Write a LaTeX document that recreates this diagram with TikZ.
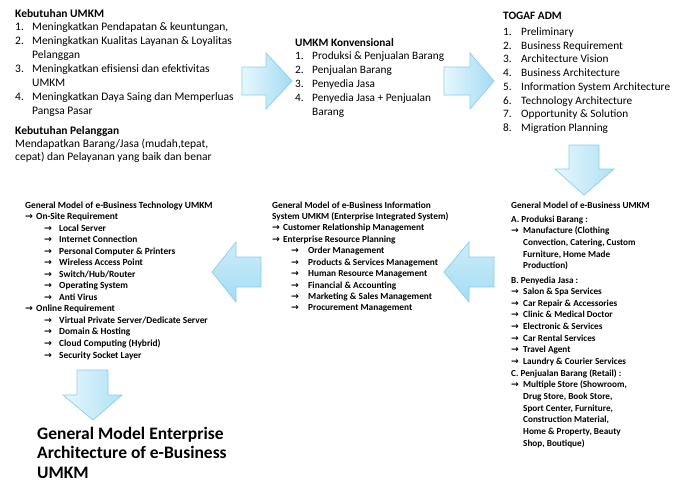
\documentclass[tikz,border=0pt]{standalone}
\usepackage{fontspec}
\setmainfont{Carlito}
\newfontfamily\arrowfont{DejaVu Sans}
\definecolor{arrowlight}{HTML}{E6F7FD}
\definecolor{arrowdark}{HTML}{A4DCF3}
\definecolor{arrowedge}{HTML}{8ACEE8}
\newcommand\myarr{{\arrowfont →}}
\newcommand\numbox[2]{\makebox[#1][l]{#2}}
\tikzset{
  blockarrow/.style={draw=arrowedge, line width=0.7pt, line join=miter},
  harrow/.style={blockarrow, left color=arrowlight, right color=arrowdark},
  larrow/.style={blockarrow, top color=arrowlight!60!arrowdark, bottom color=arrowdark},
  varrow/.style={blockarrow, left color=arrowlight, right color=arrowdark!80!arrowlight},
  textblock/.style={anchor=base west, inner sep=0pt, align=left}
}
\begin{document}
\begin{tikzpicture}[x=1pt, y=-1pt]
\useasboundingbox (0,0) rectangle (685,483);

% ---------- Text blocks ----------
\node[textblock, font=\fontsize{11.5}{14}\selectfont] (needs) at (15,17.5) {%
\begin{tabular}[t]{@{}l@{}}
\textbf{Kebutuhan UMKM}\\[-1pt]
\numbox{17pt}{1.}Meningkatkan Pendapatan \& keuntungan,\\
\numbox{17pt}{2.}Meningkatkan Kualitas Layanan \& Loyalitas\\
\hspace*{17pt}Pelanggan\\
\numbox{17pt}{3.}Meningkatkan efisiensi dan efektivitas\\
\hspace*{17pt}UMKM\\
\numbox{17pt}{4.}Meningkatkan Daya Saing dan Memperluas\\
\hspace*{17pt}Pangsa Pasar\\[6pt]
\textbf{Kebutuhan Pelanggan}\\[-1pt]
Mendapatkan Barang/Jasa (mudah,tepat,\\[-1pt]
cepat) dan Pelayanan yang baik dan benar
\end{tabular}};

\node[textblock, font=\fontsize{11.3}{14}\selectfont] (konv) at (295,46) {%
\begin{tabular}[t]{@{}l@{}}
\textbf{UMKM Konvensional}\\[-1pt]
\numbox{17pt}{1.}Produksi \& Penjualan Barang\\
\numbox{17pt}{2.}Penjualan Barang\\
\numbox{17pt}{3.}Penyedia Jasa\\
\numbox{17pt}{4.}Penyedia Jasa + Penjualan\\
\hspace*{17pt}Barang
\end{tabular}};

\node[textblock, font=\fontsize{11.3}{13.7}\selectfont] (togaf) at (503,19.5) {%
\begin{tabular}[t]{@{}l@{}}
\textbf{TOGAF ADM}\\[2.3pt]
\numbox{18pt}{1.}Preliminary\\
\numbox{18pt}{2.}Business Requirement\\
\numbox{18pt}{3.}Architecture Vision\\
\numbox{18pt}{4.}Business Architecture\\
\numbox{18pt}{5.}Information System Architecture\\
\numbox{18pt}{6.}Technology Architecture\\
\numbox{18pt}{7.}Opportunity \& Solution\\
\numbox{18pt}{8.}Migration Planning
\end{tabular}};

\node[textblock, font=\fontsize{9.2}{11.64}\selectfont\bfseries] (ebiz) at (511,208) {%
\begin{tabular}[t]{@{}l@{}}
General Model of e-Business UMKM\\[2.6pt]
A. Produksi Barang :\\
\numbox{12pt}{\myarr}Manufacture (Clothing\\
\hspace*{12pt}Convection, Catering, Custom\\
\hspace*{12pt}Furniture, Home Made\\
\hspace*{12pt}Production)\\[2.6pt]
B. Penyedia Jasa :\\
\numbox{12pt}{\myarr}Salon \& Spa Services\\
\numbox{12pt}{\myarr}Car Repair \& Accessories\\
\numbox{12pt}{\myarr}Clinic \& Medical Doctor\\
\numbox{12pt}{\myarr}Electronic \& Services\\
\numbox{12pt}{\myarr}Car Rental Services\\
\numbox{12pt}{\myarr}Travel Agent\\
\numbox{12pt}{\myarr}Laundry \& Courier Services\\
C. Penjualan Barang (Retail) :\\
\numbox{12pt}{\myarr}Multiple Store (Showroom,\\
\hspace*{12pt}Drug Store, Book Store,\\
\hspace*{12pt}Sport Center, Furniture,\\
\hspace*{12pt}Construction Material,\\
\hspace*{12pt}Home \& Property, Beauty\\
\hspace*{12pt}Shop, Boutique)
\end{tabular}};

\node[textblock, font=\fontsize{9.3}{11.44}\selectfont\bfseries] (infosys) at (272,208) {%
\begin{tabular}[t]{@{}l@{}}
General Model of e-Business Information\\
System UMKM (Enterprise Integrated System)\\
\numbox{11pt}{\myarr}Customer Relationship Management\\
\numbox{11pt}{\myarr}Enterprise Resource Planning\\
\hspace*{19pt}\numbox{17pt}{\myarr}Order Management\\
\hspace*{19pt}\numbox{17pt}{\myarr}Products \& Services Management\\
\hspace*{19pt}\numbox{17pt}{\myarr}Human Resource Management\\
\hspace*{19pt}\numbox{17pt}{\myarr}Financial \& Accounting\\
\hspace*{19pt}\numbox{17pt}{\myarr}Marketing \& Sales Management\\
\hspace*{19pt}\numbox{17pt}{\myarr}Procurement Management
\end{tabular}};

\node[textblock, font=\fontsize{9.4}{11.54}\selectfont\bfseries] (tech) at (25,208) {%
\begin{tabular}[t]{@{}l@{}}
General Model of e-Business Technology UMKM\\
\numbox{11pt}{\myarr}On-Site Requirement\\
\hspace*{19pt}\numbox{15pt}{\myarr}Local Server\\
\hspace*{19pt}\numbox{15pt}{\myarr}Internet Connection\\
\hspace*{19pt}\numbox{15pt}{\myarr}Personal Computer \& Printers\\
\hspace*{19pt}\numbox{15pt}{\myarr}Wireless Access Point\\
\hspace*{19pt}\numbox{15pt}{\myarr}Switch/Hub/Router\\
\hspace*{19pt}\numbox{15pt}{\myarr}Operating System\\
\hspace*{19pt}\numbox{15pt}{\myarr}Anti Virus\\
\numbox{11pt}{\myarr}Online Requirement\\
\hspace*{19pt}\numbox{15pt}{\myarr}Virtual Private Server/Dedicate Server\\
\hspace*{19pt}\numbox{15pt}{\myarr}Domain \& Hosting\\
\hspace*{19pt}\numbox{15pt}{\myarr}Cloud Computing (Hybrid)\\
\hspace*{19pt}\numbox{15pt}{\myarr}Security Socket Layer
\end{tabular}};

\node[textblock, font=\fontsize{17.5}{19.5}\selectfont\bfseries, text depth=0pt] (result) at (37,439) {%
\begin{tabular}[t]{@{}l@{}}
General Model Enterprise\\
Architecture of e-Business\\
UMKM
\end{tabular}};

% ---------- Block arrows ----------
\path[harrow] (242,67) -- (266,67) -- (266,53) -- (292,81) -- (266,109) -- (266,95) -- (242,95) -- cycle;
\path[harrow] (444,67) -- (470,67) -- (470,53) -- (494,81) -- (470,109) -- (470,95) -- (444,95) -- cycle;
\path[varrow] (569,145) -- (599,145) -- (599,169) -- (614,169) -- (584,195) -- (555,169) -- (569,169) -- cycle;
\path[larrow] (494,257) -- (469,257) -- (469,242) -- (444,272) -- (469,302) -- (469,287) -- (494,287) -- cycle;
\path[larrow] (261,257) -- (236,257) -- (236,242) -- (212,272) -- (236,302) -- (236,287) -- (261,287) -- cycle;
\path[varrow] (77,370) -- (108,370) -- (108,395) -- (122,395) -- (93,420) -- (63,395) -- (77,395) -- cycle;
\end{tikzpicture}
\end{document}
